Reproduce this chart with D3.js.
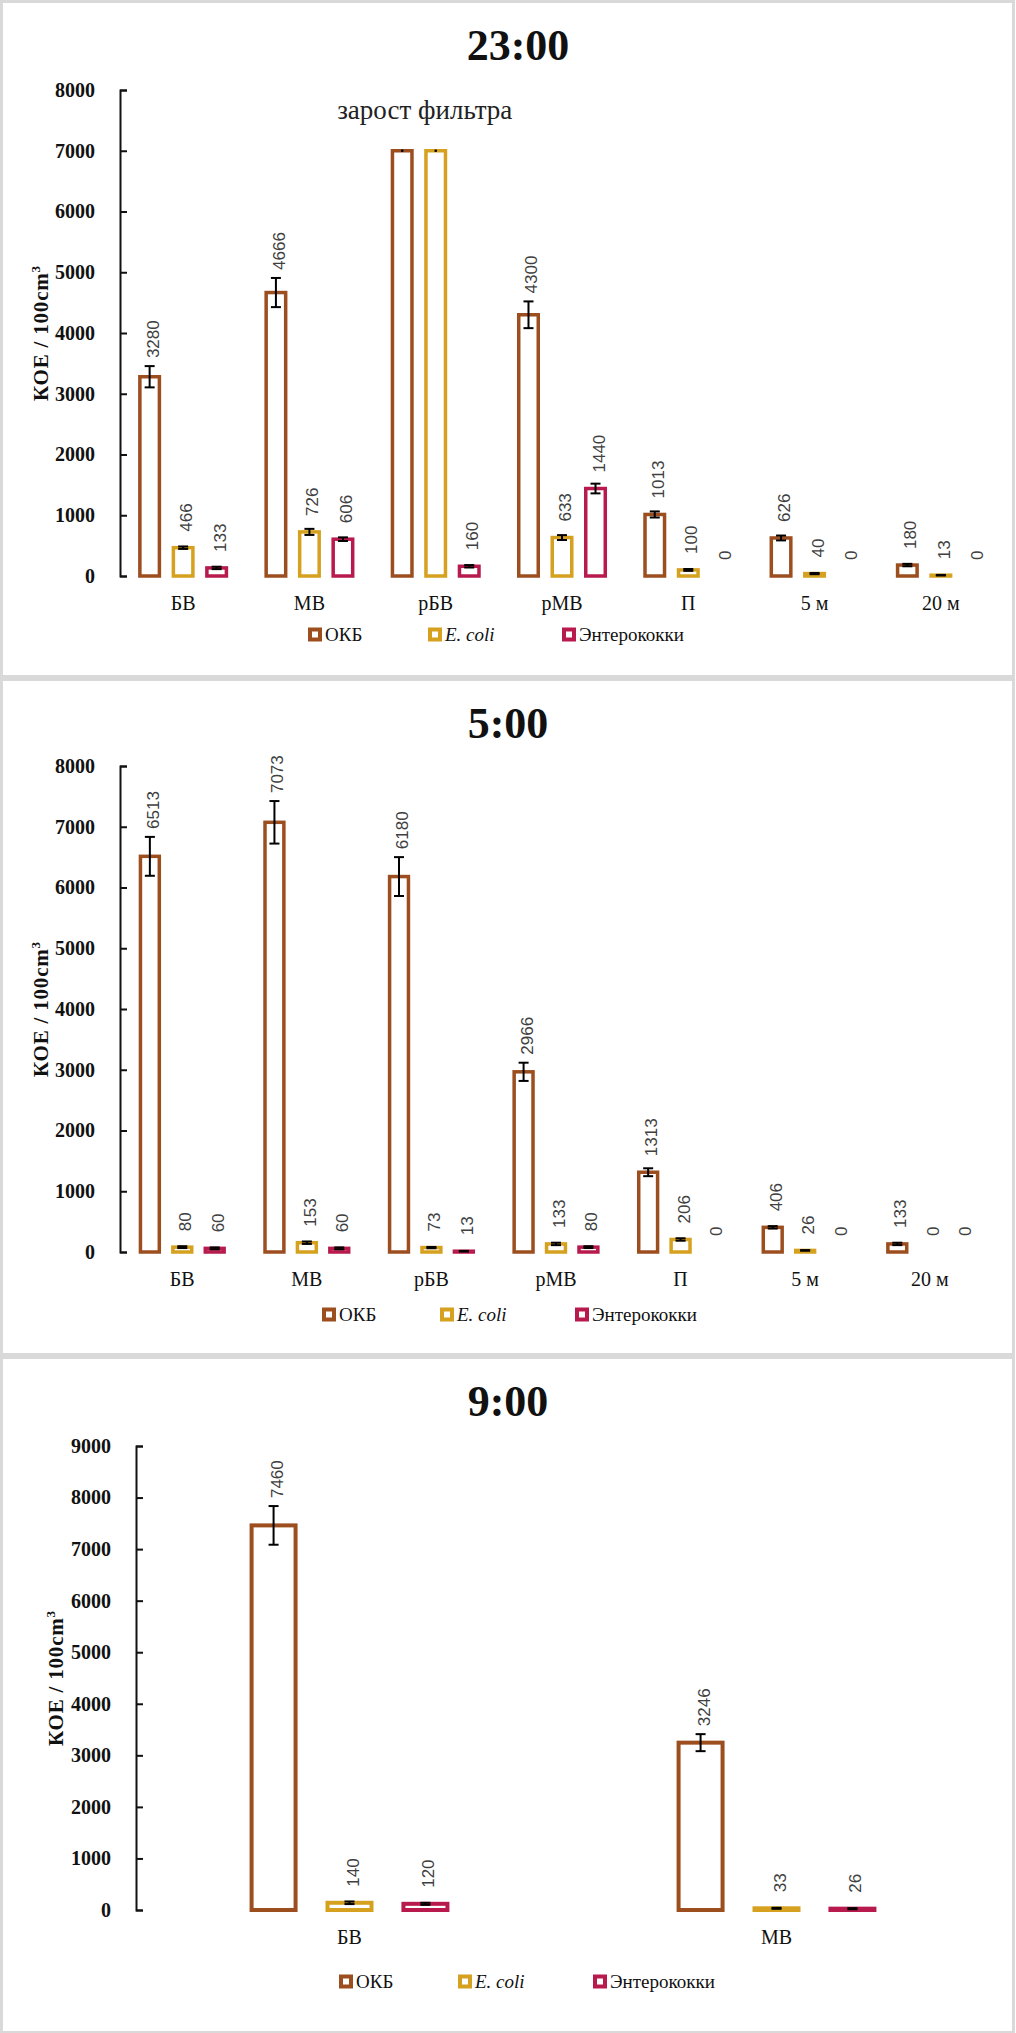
<!DOCTYPE html>
<html>
<head>
<meta charset="utf-8">
<script src="https://cdn.jsdelivr.net/npm/d3@7"></script>
<style>
  html, body { margin: 0; padding: 0; background: #fff; }
  svg { display: block; }
</style>
</head>
<body>
<div id="chart"></div>
<script>
	/*============= data ===============*/
	const seriesNames = ["ОКБ", "E. coli", "Энтерококки"];
	const seriesColors = ["#9c4e1f", "#d5a11f", "#b81a4e"];

	// 23:00
	const categories1 = ["БВ", "МВ", "рБВ", "рМВ", "П", "5 м", "20 м"];
	const okb1 = [3280, 4666, 7000, 4300, 1013, 626, 180];
	const ecoli1 = [466, 726, 7000, 633, 100, 40, 13];
	const entero1 = [133, 606, 160, 1440, 0, 0, 0];
	const okbErr1 = [175, 240, 0, 220, 50, 40, 20];
	const ecoliErr1 = [20, 50, 0, 40, 15, 10, 5];
	const enteroErr1 = [20, 30, 20, 80, 0, 0, 0];
	const overgrown1 = ["рБВ"];   // "зарост фильтра": ОКБ and E. coli not counted
	const yTicks1 = [0, 1000, 2000, 3000, 4000, 5000, 6000, 7000, 8000];

	// 5:00
	const categories2 = ["БВ", "МВ", "рБВ", "рМВ", "П", "5 м", "20 м"];
	const okb2 = [6513, 7073, 6180, 2966, 1313, 406, 133];
	const ecoli2 = [80, 153, 73, 133, 206, 26, 0];
	const entero2 = [60, 60, 13, 80, 0, 0, 0];
	const okbErr2 = [320, 350, 320, 150, 65, 20, 20];
	const ecoliErr2 = [15, 20, 10, 20, 20, 5, 0];
	const enteroErr2 = [15, 15, 5, 15, 0, 0, 0];
	const yTicks2 = [0, 1000, 2000, 3000, 4000, 5000, 6000, 7000, 8000];

	// 9:00
	const categories3 = ["БВ", "МВ"];
	const okb3 = [7460, 3246];
	const ecoli3 = [140, 33];
	const entero3 = [120, 26];
	const okbErr3 = [375, 165];
	const ecoliErr3 = [25, 10];
	const enteroErr3 = [20, 10];
	const yTicks3 = [0, 1000, 2000, 3000, 4000, 5000, 6000, 7000, 8000, 9000];

	/*============= layout ===============*/
	const W = 1016, H = 2033;
	const SERIF = '"Liberation Serif", "Times New Roman", serif';
	const SANS = '"Liberation Sans", Arial, sans-serif';
	const svg = d3.select("#chart").append("svg").attr("width", W).attr("height", H);

	const panels = [
		{title: "23:00", top: 0, h: 676, titleX: 518, left: 120, right: 1004, y0: 576, y1: 90,
		 cats: categories1, vals: [okb1, ecoli1, entero1], errs: [okbErr1, ecoliErr1, enteroErr1],
		 ticks: yTicks1, overgrown: overgrown1, pad: 0.287, inner: 0.313, sw: 3.5,
		 legendY: 634, legendX: [308, 428, 562], yTitleX: 48},
		{title: "5:00", top: 678, h: 676, titleX: 508, left: 120, right: 992, y0: 1252, y1: 766,
		 cats: categories2, vals: [okb2, ecoli2, entero2], errs: [okbErr2, ecoliErr2, enteroErr2],
		 ticks: yTicks2, overgrown: [], pad: 0.3, inner: 0.31, sw: 3.5,
		 legendY: 1314, legendX: [322, 440, 575], yTitleX: 48},
		{title: "9:00", top: 1356, h: 676, titleX: 508, left: 136, right: 990, y0: 1910, y1: 1446,
		 cats: categories3, vals: [okb3, ecoli3, entero3], errs: [okbErr3, ecoliErr3, enteroErr3],
		 ticks: yTicks3, overgrown: [], pad: 0.532, inner: 0.368, sw: 4,
		 legendY: 1981, legendX: [339, 458, 593], yTitleX: 63}
	];

	panels.forEach(drawPanel);

	/*============= functions ===============*/
	function drawPanel(p) {
		const g = svg.append("g");

		g.append("rect")
			.attr("x", 1.5).attr("y", p.top + 1.5)
			.attr("width", W - 4).attr("height", p.h - 1)
			.attr("fill", "none").attr("stroke", "#d9d9d9").attr("stroke-width", 3);

		g.append("text")
			.attr("x", p.titleX).attr("y", p.top + 60)
			.attr("text-anchor", "middle")
			.style("font-family", SERIF)
			.attr("font-size", 44).attr("font-weight", "bold").attr("fill", "#111")
			.text(p.title);

		const yMax = d3.max(p.ticks);
		const y = d3.scaleLinear().domain([0, yMax]).range([p.y0, p.y1]);
		const x0 = d3.scaleBand().domain(p.cats).range([p.left, p.right])
			.paddingInner(p.pad).paddingOuter(p.pad / 2);
		const x1 = d3.scaleBand().domain(seriesNames).range([0, x0.bandwidth()])
			.paddingInner(p.inner).paddingOuter(0);

		// y axis, ticks inside
		const yAxis = d3.axisLeft(y).tickValues(p.ticks).tickFormat(d3.format("d"))
			.tickSize(-7).tickPadding(25).tickSizeOuter(-7);
		const gy = g.append("g").attr("transform", `translate(${p.left},0)`).call(yAxis);
		gy.select(".domain").attr("stroke", "#111").attr("stroke-width", 2);
		gy.selectAll(".tick line").attr("stroke", "#111").attr("stroke-width", 2);
		gy.selectAll(".tick text")
			.style("font-family", SERIF)
			.style("font-size", "20px").style("font-weight", "bold").attr("fill", "#111");

		// y title
		const yt = g.append("text")
			.attr("transform", `translate(${p.yTitleX},${(p.y0 + p.y1) / 2}) rotate(-90)`)
			.attr("text-anchor", "middle")
			.style("font-family", SERIF).style("letter-spacing", "0.8px")
			.attr("font-size", 21).attr("font-weight", "bold").attr("fill", "#111");
		yt.append("tspan").text("КОЕ / 100cm");
		yt.append("tspan").attr("dy", -8).attr("font-size", 13).text("3");

		// category labels
		g.selectAll(".cat").data(p.cats).join("text")
			.attr("x", d => x0(d) + x0.bandwidth() / 2)
			.attr("y", p.y0 + 34)
			.attr("text-anchor", "middle")
			.style("font-family", SERIF)
			.attr("font-size", 20).attr("fill", "#111")
			.text(d => d);

		// bars
		const rows = [];
		p.cats.forEach((c, i) => seriesNames.forEach((s, j) => {
			rows.push({cat: c, s, j, v: p.vals[j][i], e: p.errs[j][i],
				label: !(j < 2 && p.overgrown.includes(c))});
		}));
		const cx = d => x0(d.cat) + x1(d.s) + x1.bandwidth() / 2;

		g.selectAll(".bar").data(rows.filter(d => d.v > 0)).join("rect")
			.attr("x", d => x0(d.cat) + x1(d.s) + p.sw / 2)
			.attr("y", d => y(d.v))
			.attr("width", x1.bandwidth() - p.sw)
			.attr("height", d => y(0) - y(d.v))
			.attr("fill", "#fff")
			.attr("stroke", d => seriesColors[d.j])
			.attr("stroke-width", p.sw);

		// error bars
		const eb = g.selectAll(".err").data(rows.filter(d => d.v > 0)).join("g");
		eb.filter(d => d.e > 0).append("line")
			.attr("x1", cx).attr("x2", cx)
			.attr("y1", d => y(d.v + d.e)).attr("y2", d => y(d.v - d.e));
		eb.each(function(d) {
			const cw = d.e > 0 ? 5 : 1;
			[d.v + d.e, d.v - d.e].forEach(val => {
				d3.select(this).append("line")
					.attr("x1", cx(d) - cw).attr("x2", cx(d) + cw)
					.attr("y1", y(val)).attr("y2", y(val));
			});
		});
		eb.selectAll("line").attr("stroke", "#000").attr("stroke-width", 2);

		// value labels
		g.selectAll(".val").data(rows.filter(d => d.label)).join("text")
			.attr("transform", d => {
				const yb = Math.min(y(d.v) - 16, y(d.v + d.e) - 8);
				return `translate(${cx(d) + 9},${yb}) rotate(-90)`;
			})
			.style("font-family", SANS)
			.attr("font-size", 17).attr("fill", "#404040")
			.text(d => d.v);

		if (p.overgrown.length) {
			g.append("text")
				.attr("x", x0(p.overgrown[0]) + x0.bandwidth() / 2 - 11)
				.attr("y", y(7530))
				.attr("text-anchor", "middle")
				.style("font-family", SERIF)
				.attr("font-size", 27).attr("fill", "#222")
				.text("зарост фильтра");
		}

		// legend
		const lg = g.selectAll(".leg").data(seriesNames).join("g")
			.attr("transform", (d, i) => `translate(${p.legendX[i]},${p.legendY})`);
		lg.append("rect")
			.attr("x", 2).attr("y", -4.5)
			.attr("width", 10).attr("height", 10)
			.attr("fill", "#fff")
			.attr("stroke", (d, i) => seriesColors[i]).attr("stroke-width", 4);
		lg.append("text")
			.attr("x", 17).attr("y", 7)
			.style("font-family", SERIF)
			.attr("font-size", 19).attr("fill", "#111")
			.attr("font-style", d => d === "E. coli" ? "italic" : "normal")
			.text(d => d);
	}
</script>
</body>
</html>
